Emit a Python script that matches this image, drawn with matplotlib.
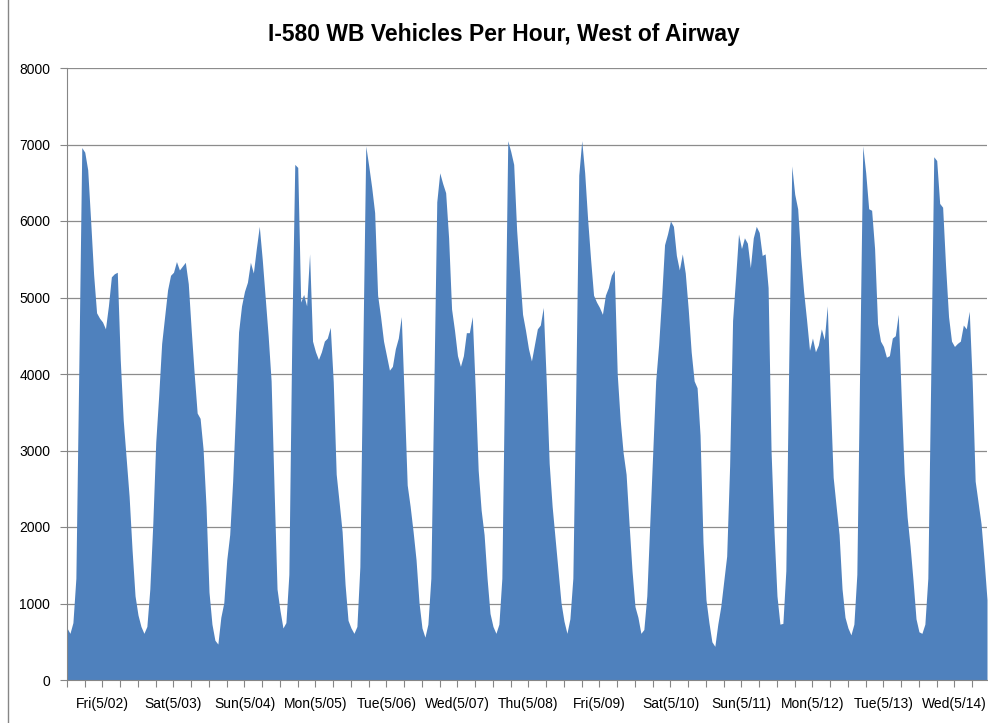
import matplotlib.pyplot as plt
import numpy as np
from matplotlib.lines import Line2D

# hourly counts, one list per day (hour 0..23)
fri_0502 = [680, 610, 750, 1330, 4100, 6960, 6900, 6670, 6000, 5300, 4800, 4730,
            4680, 4590, 4890, 5270, 5310, 5330, 4190, 3400, 2900, 2400, 1700, 1100]
sat_0503 = [850, 700, 610, 700, 1190, 2040, 3110, 3720, 4400, 4750, 5100, 5290,
            5330, 5470, 5360, 5410, 5460, 5180, 4570, 4000, 3490, 3420, 3020, 2270]
sun_0504 = [1150, 730, 520, 470, 820, 1010, 1570, 1900, 2600, 3540, 4550, 4890,
            5080, 5200, 5460, 5320, 5640, 5930, 5500, 5000, 4500, 3910, 2500, 1190]
mon_0505 = [910, 680, 750, 1380, 4500, 6740, 6700, 4940, 5040, 4890, 5570, 4430,
            4290, 4190, 4290, 4430, 4470, 4610, 3900, 2690, 2320, 1940, 1250, 780]
tue_0506 = [680, 610, 700, 1480, 4300, 6980, 6720, 6440, 6110, 5030, 4750, 4430,
            4240, 4050, 4100, 4330, 4470, 4750, 3680, 2550, 2270, 1940, 1570, 1010]
wed_0507 = [680, 560, 730, 1330, 3800, 6250, 6630, 6490, 6370, 5780, 4850, 4570,
            4240, 4100, 4240, 4540, 4540, 4750, 3800, 2740, 2220, 1900, 1330, 870]
thu_0508 = [700, 610, 730, 1330, 4200, 7050, 6910, 6740, 5880, 5320, 4780, 4570,
            4330, 4170, 4380, 4590, 4640, 4870, 3910, 2830, 2270, 1850, 1430, 1010]
fri_0509 = [770, 610, 800, 1330, 3800, 6600, 7050, 6630, 6020, 5500, 5030, 4940,
            4870, 4780, 5030, 5130, 5290, 5360, 4000, 3400, 2970, 2690, 2040, 1430]
sat_0510 = [960, 820, 610, 660, 1100, 2040, 2970, 3910, 4380, 5000, 5690, 5830,
            6000, 5930, 5550, 5360, 5570, 5320, 4850, 4290, 3910, 3820, 3200, 1800]
sun_0511 = [1050, 750, 500, 440, 730, 960, 1290, 1620, 2800, 4700, 5250, 5830,
            5640, 5780, 5710, 5390, 5780, 5930, 5850, 5550, 5570, 5130, 3000, 1940]
mon_0512 = [1100, 730, 740, 1430, 4200, 6720, 6350, 6160, 5550, 5080, 4710, 4310,
            4470, 4290, 4380, 4590, 4450, 4890, 3700, 2650, 2270, 1900, 1190, 820]
tue_0513 = [680, 590, 730, 1380, 4200, 6980, 6630, 6160, 6140, 5640, 4660, 4430,
            4360, 4220, 4240, 4470, 4500, 4780, 3700, 2700, 2130, 1750, 1300, 800]
wed_0514 = [630, 610, 730, 1330, 4000, 6840, 6790, 6230, 6180, 5410, 4750, 4430,
            4360, 4400, 4430, 4640, 4590, 4820, 3900, 2600, 2320, 2040, 1570, 1050]

day_labels = ['Fri(5/02)', 'Sat(5/03)', 'Sun(5/04)', 'Mon(5/05)', 'Tue(5/06)',
              'Wed(5/07)', 'Thu(5/08)', 'Fri(5/09)', 'Sat(5/10)', 'Sun(5/11)',
              'Mon(5/12)', 'Tue(5/13)', 'Wed(5/14)']

days = [fri_0502, sat_0503, sun_0504, mon_0505, tue_0506, wed_0507, thu_0508,
        fri_0509, sat_0510, sun_0511, mon_0512, tue_0513, wed_0514]
vph = np.concatenate(days)
hours = np.arange(len(vph))

plt.rcParams['font.family'] = ['Liberation Sans', 'DejaVu Sans']

fig = plt.figure(figsize=(9.88, 7.23), dpi=100)
ax = fig.add_axes([67 / 988, 1 - 680 / 723, 920 / 988, 612 / 723])

ax.fill_between(hours, vph, 0, color='#4F81BD', linewidth=0, zorder=2)

ax.set_xlim(0, len(vph) - 1)
ax.set_ylim(0, 8000)
ax.set_yticks(np.arange(0, 8001, 1000))
ax.yaxis.grid(True, color='#8c8c8c', linewidth=0.9, zorder=0)
ax.set_axisbelow(True)

# ticks every 6 hours, day names at noon
ax.xaxis.remove_overlapping_locs = False
ax.set_xticks(np.arange(0, len(vph), 6))
ax.set_xticklabels([])
ax.set_xticks(np.arange(12, len(vph), 24), minor=True)
ax.set_xticklabels(day_labels, minor=True)
ax.tick_params(axis='x', which='major', direction='out', length=5, color='#868686')
ax.tick_params(axis='x', which='minor', length=0, pad=12, labelsize=10)
ax.tick_params(axis='y', direction='out', length=5, color='#868686', pad=7, labelsize=10)

for s in ['top', 'right']:
    ax.spines[s].set_visible(False)
for s in ['left', 'bottom']:
    ax.spines[s].set_color('#868686')

fig.text(504 / 988, 1 - 34 / 723, 'I-580 WB Vehicles Per Hour, West of Airway',
         ha='center', va='center', fontsize=16.5, fontweight='bold')

# chart border on the left
fig.add_artist(Line2D([8 / 988, 8 / 988], [0, 1], color='#868686', linewidth=1))

plt.savefig('out.png', dpi=100)
